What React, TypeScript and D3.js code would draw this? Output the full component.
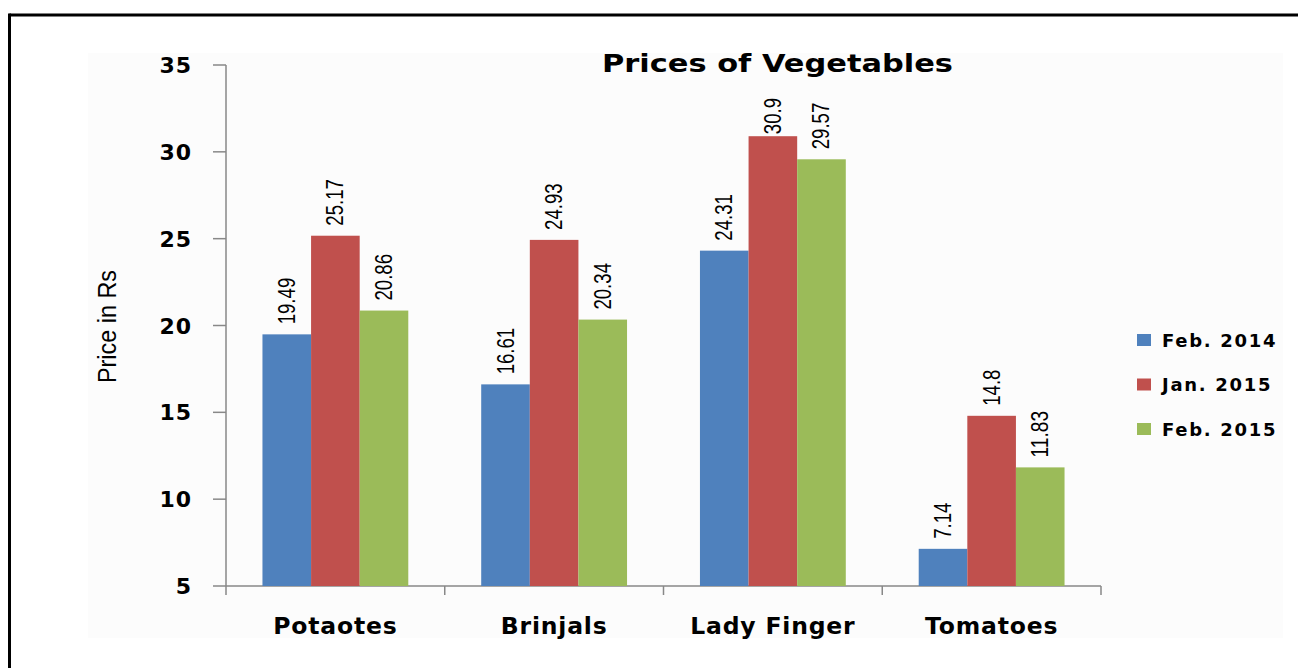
import React from 'react';
import * as d3 from 'd3';

const categories = ['Potaotes', 'Brinjals', 'Lady Finger', 'Tomatoes'];
const seriesNames = ['Feb. 2014', 'Jan. 2015', 'Feb. 2015'];
const feb2014 = [19.49, 16.61, 24.31, 7.14];
const jan2015 = [25.17, 24.93, 30.9, 14.8];
const feb2015 = [20.86, 20.34, 29.57, 11.83];
const yTicks = [5, 10, 15, 20, 25, 30, 35];
const colors = ['#4F81BD', '#C0504D', '#9BBB59'];

const seriesValues = [feb2014, jan2015, feb2015];

export default function App() {
  const width = 1298;
  const height = 668;
  const plot = { left: 226, right: 1101, top: 65, bottom: 586 };

  const y = d3.scaleLinear().domain([5, 35]).range([plot.bottom, plot.top]);
  const x0 = d3.scaleBand<string>()
    .domain(categories)
    .range([plot.left, plot.right])
    .paddingInner(0)
    .paddingOuter(0);
  const x1 = d3.scaleBand<string>()
    .domain(seriesNames)
    .range([0, x0.bandwidth()])
    .paddingInner(0)
    .paddingOuter(0.75);

  const narrowFont = '"Liberation Sans Narrow", "Liberation Sans", Arial, sans-serif';
  const boldFont = '"DejaVu Sans", Verdana, sans-serif';

  // approximate width of narrow text, the picture uses a condensed face
  const narrowLen = (s: string) =>
    s.split('').reduce((acc, c) => acc + (c === '.' ? 5 : 10.4), 0);

  return (
    <svg
      width={width}
      height={height}
      style={{ position: 'absolute', left: 0, top: 0, background: '#fff' }}
    >
      {/* frame */}
      <line x1={9.5} y1={15} x2={width} y2={15} stroke="#000" strokeWidth={3} />
      <line x1={9.5} y1={13.5} x2={9.5} y2={height} stroke="#000" strokeWidth={3} />
      {/* chart area tint */}
      <rect x={88} y={53} width={1195} height={585} fill="#fcfcfc" />

      <text
        x={602}
        y={72}
        fontFamily={boldFont}
        fontWeight="bold"
        fontSize={25}
        textLength={351}
        lengthAdjust="spacingAndGlyphs"
        fill="#000"
      >
        Prices of Vegetables
      </text>

      {/* y axis */}
      <line x1={plot.left} y1={plot.top} x2={plot.left} y2={plot.bottom} stroke="#888" strokeWidth={1.5} />
      {yTicks.map(t => (
        <g key={t}>
          <line x1={plot.left - 13} x2={plot.left} y1={y(t)} y2={y(t)} stroke="#888" strokeWidth={1.5} />
          <text
            x={192}
            y={y(t) + 8}
            textAnchor="end"
            fontFamily={boldFont}
            fontWeight="bold"
            fontSize={22}
            letterSpacing={1}
            fill="#000"
          >
            {t}
          </text>
        </g>
      ))}
      <text
        transform={`translate(116,383) rotate(-90)`}
        fontFamily={narrowFont}
        fontSize={26}
        textLength={113}
        lengthAdjust="spacingAndGlyphs"
        fill="#000"
      >
        Price in Rs
      </text>

      {/* x axis */}
      <line x1={plot.left} y1={plot.bottom} x2={plot.right} y2={plot.bottom} stroke="#888" strokeWidth={1.5} />
      {categories.concat(['']).map((c, i) => {
        const xt = plot.left + i * x0.step();
        return <line key={'t' + i} x1={xt} x2={xt} y1={plot.bottom} y2={plot.bottom + 9} stroke="#888" strokeWidth={1.5} />;
      })}
      {categories.map(c => (
        <text
          key={c}
          x={(x0(c) as number) + x0.bandwidth() / 2}
          y={634}
          textAnchor="middle"
          fontFamily={boldFont}
          fontWeight="bold"
          fontSize={23.5}
          letterSpacing={0.8}
          fill="#000"
        >
          {c}
        </text>
      ))}

      {/* bars */}
      {categories.map((c, ci) => (
        <g key={c} transform={`translate(${x0(c)},0)`}>
          {seriesNames.map((s, si) => {
            const v = seriesValues[si][ci];
            const bx = x1(s) as number;
            const top = y(v);
            const label = String(v);
            const len = narrowLen(label);
            const end = Math.max(top - 10, 98 + len);
            return (
              <g key={s}>
                <rect
                  x={bx}
                  y={top}
                  width={x1.bandwidth()}
                  height={plot.bottom - top}
                  fill={colors[si]}
                />
                <text
                  transform={`translate(${bx + x1.bandwidth() / 2 + 8},${end}) rotate(-90)`}
                  fontFamily={narrowFont}
                  fontSize={24}
                  textLength={len}
                  lengthAdjust="spacingAndGlyphs"
                  fill="#000"
                >
                  {label}
                </text>
              </g>
            );
          })}
        </g>
      ))}

      {/* legend */}
      {seriesNames.map((s, i) => (
        <g key={s} transform={`translate(1137,${340 + i * 44.5})`}>
          <rect x={0} y={-6} width={14} height={12} fill={colors[i]} />
          <text
            x={25}
            y={6.5}
            fontFamily={boldFont}
            fontWeight="bold"
            fontSize={18}
            letterSpacing={1.7}
            fill="#000"
          >
            {s}
          </text>
        </g>
      ))}
    </svg>
  );
}
